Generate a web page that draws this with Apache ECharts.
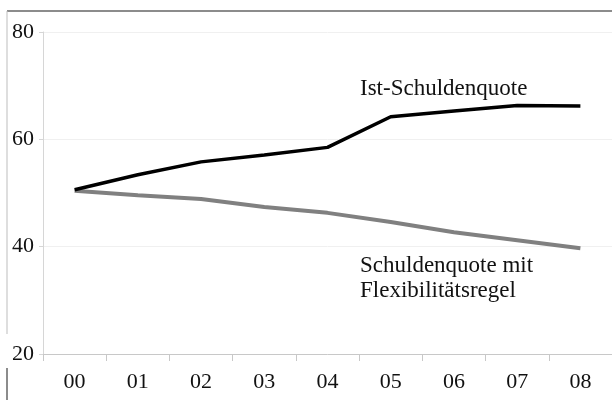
<!DOCTYPE html>
<html>
<head>
<meta charset="utf-8">
<script src="https://cdn.jsdelivr.net/npm/echarts@6/dist/echarts.min.js"></script>
<style>
  html, body { margin: 0; padding: 0; background: #fff; }
  #chart { width: 612px; height: 400px; }
</style>
</head>
<body>
<div id="chart"></div>
<script>
// Jahre (Kategorien)
const years = ['00', '01', '02', '03', '04', '05', '06', '07', '08']
// Ist-Schuldenquote
const istQuote = [50.6, 53.4, 55.8, 57.1, 58.5, 64.2, 65.3, 66.3, 66.2]
// Schuldenquote mit Flexibilitätsregel
const flexQuote = [50.4, 49.6, 48.9, 47.4, 46.3, 44.6, 42.7, 41.2, 39.7]

const font = 'Liberation Serif'

const chart = echarts.init(document.getElementById('chart'))

chart.setOption({
  animation: false,
  grid: {
    left: 43,
    top: 32,
    width: 576,
    bottom: 46,
  },
  xAxis: {
    type: 'category',
    data: years,
    boundaryGap: true,
    axisLine: { lineStyle: { color: '#c8c8c8', width: 1 } },
    axisTick: { show: true, length: 7, lineStyle: { color: '#c8c8c8' } },
    axisLabel: { color: '#111', fontFamily: font, fontSize: 22, margin: 17 },
    splitLine: { show: false },
  },
  yAxis: {
    type: 'value',
    min: 20,
    max: 80,
    interval: 20,
    axisLine: { show: true, lineStyle: { color: '#d6d6d6', width: 1 } },
    axisTick: { show: true, length: 4, lineStyle: { color: '#d6d6d6' } },
    axisLabel: { color: '#111', fontFamily: font, fontSize: 22, margin: 9 },
    splitLine: { show: true, lineStyle: { color: '#f0f0f0', width: 1 } },
  },
  series: [
    {
      name: 'Ist-Schuldenquote',
      type: 'line',
      data: istQuote,
      symbol: 'none',
      lineStyle: { color: '#000', width: 3.5 },
      z: 3,
    },
    {
      name: 'Schuldenquote mit Flexibilitätsregel',
      type: 'line',
      data: flexQuote,
      symbol: 'none',
      lineStyle: { color: '#808080', width: 4 },
      z: 2,
    },
  ],
  graphic: [
    // Rahmen oben und links
    { type: 'line', shape: { x1: 7, y1: 11, x2: 612, y2: 11 }, style: { stroke: '#8c8c8c', lineWidth: 2 } },
    { type: 'line', shape: { x1: 7, y1: 11, x2: 7, y2: 334 }, style: { stroke: '#bdbdbd', lineWidth: 1 } },
    { type: 'line', shape: { x1: 7, y1: 368, x2: 7, y2: 400 }, style: { stroke: '#8c8c8c', lineWidth: 2 } },
    {
      type: 'text', left: 360, top: 77,
      style: { text: 'Ist-Schuldenquote', font: '23px "Liberation Serif"', fill: '#111' },
    },
    {
      type: 'text', left: 360, top: 253,
      style: { text: 'Schuldenquote mit\nFlexibilitätsregel', font: '23px "Liberation Serif"', fill: '#111', lineHeight: 25 },
    },
  ],
})
</script>
</body>
</html>
